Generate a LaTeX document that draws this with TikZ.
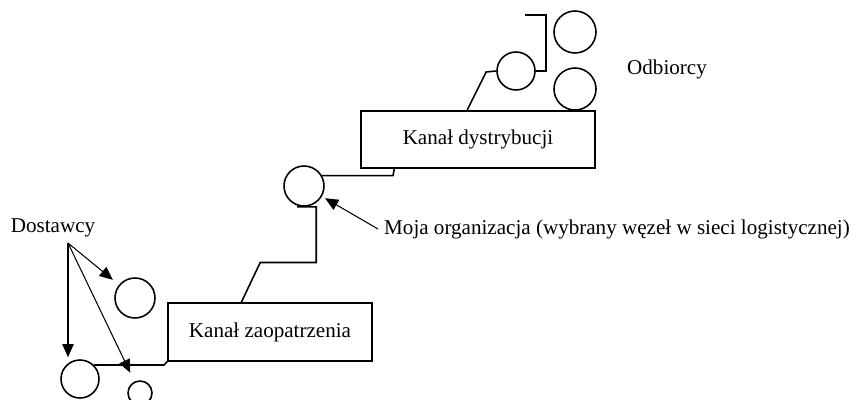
\documentclass[tikz,border=0pt]{standalone}
\usepackage{fontspec}
\setmainfont{Liberation Serif}
\usetikzlibrary{arrows.meta,calc}

\begin{document}
\begin{tikzpicture}[x=0.02cm, y=-0.02cm,
    every node/.style={font=\fontsize{12}{14}\selectfont},
    chanbox/.style={draw, line width=0.9pt, minimum height=1.15cm},
    ring/.style={draw, circle, line width=0.9pt, inner sep=0pt},
    link/.style={line width=0.9pt},
    pointer/.style={line width=0.6pt, -{Triangle[length=7.5pt, width=6.5pt]}}]
  \useasboundingbox (0,0) rectangle (857,399);

  % kanaly
  \node[chanbox, minimum width=4.08cm] (zaop) at (270,332) {Kana\l{} zaopatrzenia};
  \node[chanbox, minimum width=4.68cm] (dystr) at (478,139.5) {Kana\l{} dystrybucji};

  % wezly sieci
  \foreach \name/\pos/\size in {
    org/{(304,186)}/0.8cm,
    d1/{(135,298)}/0.8cm,
    d2/{(80,379)}/0.76cm,
    d3/{(140,393)}/0.48cm,
    o1/{(516,71)}/0.76cm,
    o2/{(575,32)}/0.84cm,
    o3/{(575,89)}/0.84cm
  }{
    \node[ring, minimum size=\size] (\name) at \pos {};
  }

  % opisy
  \node (dost) at (53,228) {Dostawcy};
  \node (odb) at (667,69) {Odbiorcy};
  \node[anchor=west] (morg) at (378,229)
    {Moja organizacja (wybrany w\k{e}ze\l{} w sieci logistycznej)};
  \coordinate (dsrc) at (68,243);
  \coordinate (oend) at (525,15);

  % polaczenia
  \draw[link] (d2.45) -- ++(70,0) -- (zaop.south west);
  \draw[link] ($(zaop.north west)+(74,0)$) -- ++(19,-40) -- ++(56,0)
    |- ($(org.south)+(-7,0)$);
  \draw[link] (org.30) -- ++(71,0) -- ($(dystr.south west)+(34,0)$);
  \draw[link] ($(dystr.north west)+(107,0)$) -- ++(19,-38) -- (o1.west);
  \draw[link] (o1.east) -- ++(10,0) |- (oend);

  % strzalki
  \draw[pointer, shorten >=4.5pt] (dsrc) -- (d1);
  \draw[pointer] (dsrc) -- ($(dsrc |- d2.north)+(0,-2)$);
  \draw[pointer, shorten >=5.5pt] (dsrc) -- (d3);
  \draw[pointer, shorten >=2pt] (morg.west) -- (org);
\end{tikzpicture}
\end{document}
